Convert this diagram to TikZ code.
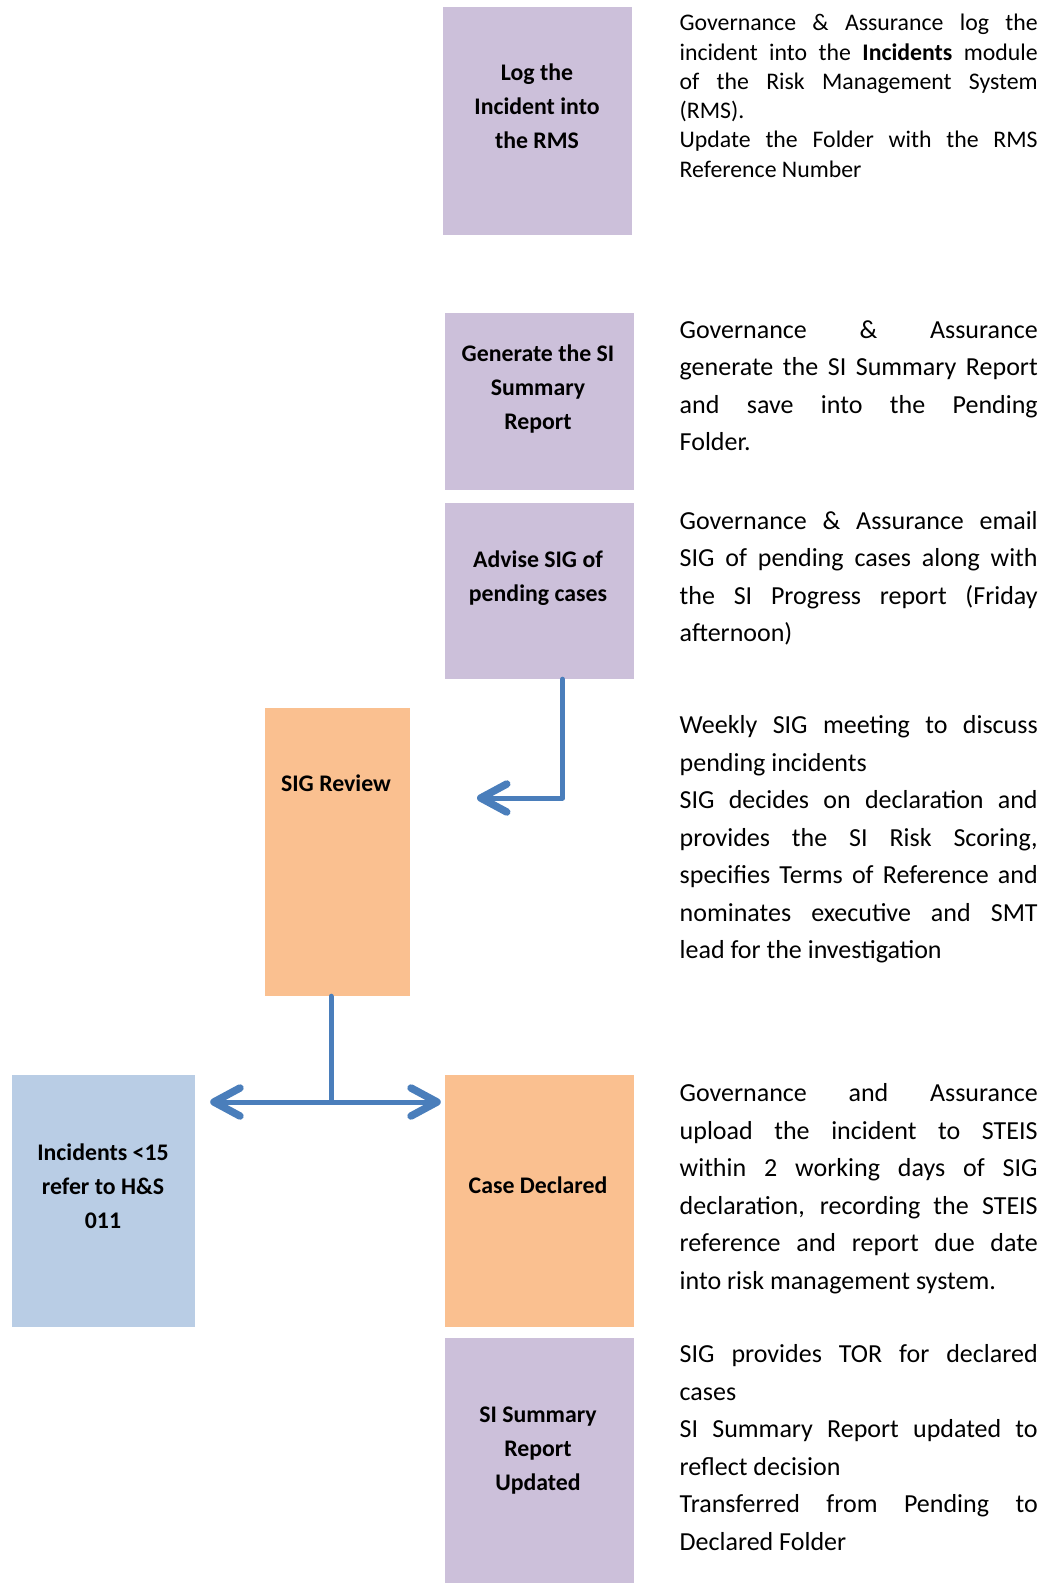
\documentclass[tikz,border=0pt]{standalone}
\usepackage{fontspec}
\setmainfont{Carlito}
\usetikzlibrary{arrows.meta}
\definecolor{sglilac}{HTML}{CCC0DA}
\definecolor{sgpeach}{HTML}{FAC090}
\definecolor{sgsky}{HTML}{B9CDE5}
\definecolor{sglink}{HTML}{4A7EBB}
\setlength{\parindent}{0pt}
\tolerance=10000
\hyphenpenalty=10000

\begin{document}
\begin{tikzpicture}[
  x=1pt, y=-1pt,
  stage/.style    = {rectangle, inner sep=0pt, minimum width=189pt, fill=sglilac},
  decision/.style = {stage, fill=sgpeach},
  divert/.style   = {stage, fill=sgsky},
  lab/.style      = {align=center, inner sep=0pt,
                     font=\fontsize{23.8}{33.8}\selectfont\bfseries},
  note/.style     = {anchor=north west, inner sep=0pt, text width=358pt,
                     align=justify, font=\fontsize{26}{37.5}\selectfont},
  smallnote/.style= {note, font=\fontsize{23.8}{29.3}\selectfont},
  link/.style     = {draw=sglink, line width=5pt, line cap=round, line join=round},
  flow/.style     = {link, -{Straight Barb[length=26pt,width=28pt,line width=7.5pt,round]}},
]
\useasboundingbox (0,0) rectangle (1060,1583);
% boxes
\node[stage, minimum height=228pt]    (logbox) at (537.5,121)   {};
\node[stage, minimum height=177pt]    (genbox) at (539.5,401.5) {};
\node[stage, minimum height=176pt]    (advbox) at (539.5,591)   {};
\node[decision, minimum width=145pt, minimum height=288pt] (sigbox) at (337.5,852) {};
\node[divert, minimum width=183pt, minimum height=252pt]   (incbox) at (103.5,1201) {};
\node[decision, minimum height=252pt] (decbox) at (539.5,1201)  {};
\node[stage, minimum height=245pt]    (updbox) at (539.5,1460.5) {};
% box texts
\node[lab] (logtxt) at (537,106.5)  {Log the\\Incident into\\the RMS};
\node[lab] (gentxt) at (538,389)    {Generate the SI\\Summary\\Report};
\node[lab] (advtxt) at (538,578)    {Advise SIG of\\pending cases};
\node[lab] (sigtxt) at (336,783.4)  {SIG Review};
\node[lab] (inctxt) at (103,1186)   {Incidents <15\\refer to H\&S\\011};
\node[lab] (dectxt) at (538,1185.2) {Case Declared};
\node[lab] (updtxt) at (538,1450.8) {SI Summary\\Report\\Updated};
% descriptions
\node[smallnote] (lognote) at (679.5,14) {Governance \& Assurance log the\linebreak
  incident into the \textbf{Incidents} module\linebreak
  of the Risk Management System\linebreak
  (RMS).\par
  Update the Folder with the RMS\linebreak
  Reference Number};
\node[note] (gennote) at (679.5,320.3) {Governance \& Assurance\linebreak
  generate the SI Summary Report\linebreak
  and save into the Pending\linebreak
  Folder.};
\node[note] (advnote) at (679.5,511) {Governance \& Assurance email\linebreak
  SIG of pending cases along with\linebreak
  the SI Progress report (Friday\linebreak
  afternoon)};
\node[note] (signote) at (679.5,715.3) {Weekly SIG meeting to discuss\linebreak
  pending incidents\par
  SIG decides on declaration and\linebreak
  provides the SI Risk Scoring,\linebreak
  specifies Terms of Reference and\linebreak
  nominates executive and SMT\linebreak
  lead for the investigation};
\node[note] (decnote) at (679.5,1083.3) {Governance and Assurance\linebreak
  upload the incident to STEIS\linebreak
  within 2 working days of SIG\linebreak
  declaration, recording the STEIS\linebreak
  reference and report due date\linebreak
  into risk management system.};
\node[note] (updnote) at (679.5,1344.5) {SIG provides TOR for declared\linebreak
  cases\par
  SI Summary Report updated to\linebreak
  reflect decision\par
  Transferred from Pending to\linebreak
  Declared Folder};
% connectors
\coordinate (sigin) at (477,798);
\coordinate (fork) at (331,1102);
\draw[flow] ([xshift=23pt]advbox.south) |- (sigin);
\draw[link] ([xshift=-6.5pt]sigbox.south) -- (fork);
\draw[flow] (fork) -- ([xshift=15pt]incbox.east |- fork);
\draw[flow] (fork) -- ([xshift=-4pt]decbox.west |- fork);
\end{tikzpicture}
\end{document}
